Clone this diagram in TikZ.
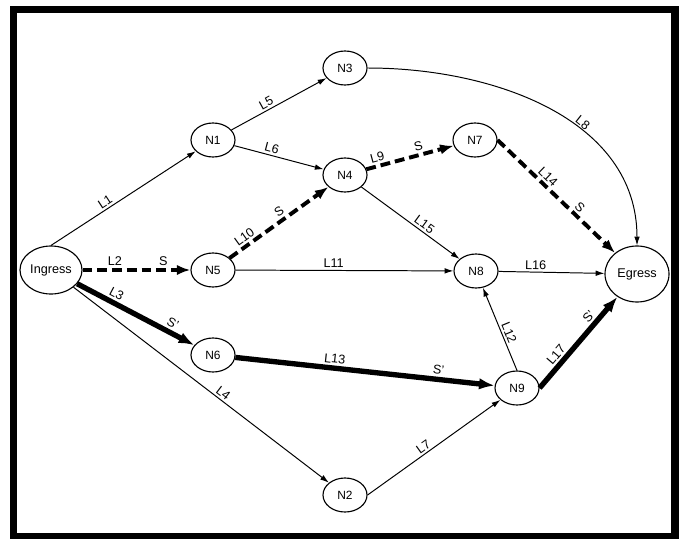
\documentclass[tikz,border=0pt]{standalone}
\usepackage{fontspec}
\setmainfont{Liberation Sans}
\usetikzlibrary{arrows.meta,shapes.geometric}

\begin{document}
\begin{tikzpicture}[
  x=0.025cm,y=0.025cm,
  nd/.style={draw, ellipse, minimum width=1.1cm, minimum height=0.85cm, inner sep=0pt, line width=0.8pt, font=\fontsize{8.5}{9}\selectfont},
  thin/.style={-{Latex[length=2.2mm,width=1.4mm]}, line width=0.7pt},
  sig/.style={-{Latex[length=3.4mm,width=2.6mm]}, line width=2.8pt, dash pattern=on 7pt off 3.5pt},
  bck/.style={-{Latex[length=3.9mm,width=2.9mm]}, line width=3.8pt},
  lbl/.style={font=\fontsize{9}{10}\selectfont, sloped, above, inner sep=1.5pt}
]
\useasboundingbox (0,0) rectangle (681,-538);
\draw[line width=5pt] (13.5,-9.5) rectangle (675,-536.5);
% nodes
\node[nd, minimum width=1.55cm, minimum height=1.2cm, font=\fontsize{9}{10}\selectfont] (ing) at (51,-270) {Ingress};
\node[nd, minimum width=1.6cm, minimum height=1.4cm, font=\fontsize{9}{10}\selectfont] (egr) at (637,-274) {Egress};
\node[nd] (n1) at (213,-140) {N1};
\node[nd] (n3) at (345,-68) {N3};
\node[nd] (n4) at (345,-175) {N4};
\node[nd] (n7) at (475,-140) {N7};
\node[nd] (n5) at (213,-270) {N5};
\node[nd] (n8) at (476,-271) {N8};
\node[nd] (n6) at (213,-355) {N6};
\node[nd] (n9) at (517,-388) {N9};
\node[nd] (n2) at (345,-495) {N2};
% links
\draw[thin] (ing.north) -- node[lbl,pos=0.4]{L1} (n1);
\draw[sig] (ing) -- node[lbl,pos=0.3]{L2} node[lbl,pos=0.75]{S} (n5);
\draw[bck] (ing) -- node[lbl,pos=0.3]{L3} node[lbl,pos=0.78]{S'} (n6);
\draw[thin] (ing) -- node[lbl,pos=0.57]{L4} (n2);
\draw[thin] (n1) -- node[lbl,pos=0.4]{L5} (n3);
\draw[thin] (n1) -- node[lbl,pos=0.4]{L6} (n4);
\draw[thin] (n2.east) -- node[lbl,pos=0.45]{L7} (n9);
\draw[thin] (n3.east) to[out=0,in=90] node[lbl,pos=0.6]{L8} (egr.north);
\draw[sig] (n4) -- node[lbl,pos=0.15]{L9} node[lbl,pos=0.62]{S} (n7);
\draw[sig] (n5) -- node[lbl,pos=0.2]{L10} node[lbl,pos=0.55]{S} (n4);
\draw[thin] (n5) -- node[lbl,pos=0.45]{L11} (n8);
\draw[thin] (n9.north) -- node[lbl,pos=0.42]{L12} (n8);
\draw[bck] (n6) -- node[lbl,pos=0.38]{L13} node[lbl,pos=0.78]{S'} (n9);
\draw[sig] (n7.east) -- node[lbl,pos=0.38]{L14} node[lbl,pos=0.65]{S} (egr);
\draw[thin] (n4) -- node[lbl,pos=0.6]{L15} (n8);
\draw[thin] (n8) -- node[lbl,pos=0.35]{L16} (egr);
\draw[bck] (n9.east) -- node[lbl,pos=0.3]{L17} node[lbl,pos=0.72]{S'} (egr);
\end{tikzpicture}
\end{document}
